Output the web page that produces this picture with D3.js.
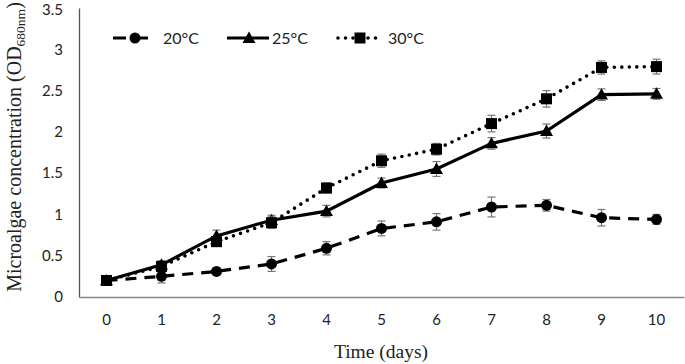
<!DOCTYPE html>
<meta charset="utf-8">
<head>
<style>
body { margin: 0; background: #fff; }
.tick text { font-family: Lato, "Open Sans", sans-serif; font-size: 15px; fill: #222; }
.legend text { font-family: Lato, "Open Sans", sans-serif; font-size: 16px; fill: #222; }
.title { font-family: "Liberation Serif", "DejaVu Serif", serif; fill: #222; }
</style>
</head>
<body>
<svg width="685" height="364"></svg>
<script src="https://d3js.org/d3.v7.min.js"></script>
<script>
const days = [0, 1, 2, 3, 4, 5, 6, 7, 8, 9, 10];
const yTicks = [0, 0.5, 1, 1.5, 2, 2.5, 3, 3.5];

const t20 = [0.2, 0.25, 0.31, 0.4, 0.59, 0.83, 0.91, 1.09, 1.11, 0.96, 0.94];
const t20err = [0.02, 0.08, 0.04, 0.09, 0.08, 0.09, 0.1, 0.12, 0.07, 0.1, 0.06];
const t25 = [0.2, 0.39, 0.74, 0.93, 1.04, 1.38, 1.55, 1.86, 2.01, 2.45, 2.46];
const t25err = [0.02, 0.05, 0.07, 0.06, 0.07, 0.06, 0.09, 0.07, 0.085, 0.07, 0.065];
const t30 = [0.2, 0.37, 0.67, 0.9, 1.32, 1.65, 1.79, 2.1, 2.4, 2.78, 2.79];
const t30err = [0.02, 0.06, 0.04, 0.07, 0.06, 0.08, 0.07, 0.1, 0.1, 0.08, 0.09];

const series = [
    {name: '20\u00B0C', values: t20, err: t20err, dash: '11,8', cap: 'butt', marker: 'circle'},
    {name: '25\u00B0C', values: t25, err: t25err, dash: null, cap: 'butt', marker: 'triangle'},
    {name: '30\u00B0C', values: t30, err: t30err, dash: '0,7.5', cap: 'round', marker: 'square'}
];

let svg = d3.select('svg');
let margin = {top: 8, right: 1, bottom: 67, left: 79};
let width = +svg.attr('width') - margin.left - margin.right;
let height = +svg.attr('height') - margin.top - margin.bottom;

let x = d3.scaleBand().domain(days).range([0, width]);
let y = d3.scaleLinear().domain([0, 3.5]).range([height, 0]);
let cx = (d) => x(d) + x.bandwidth() / 2;

let g = svg.append('g')
    .attr('transform', `translate(${margin.left}, ${margin.top})`);

// axes
let yAxis = g.append('g')
    .call(d3.axisLeft(y).tickValues(yTicks).tickSize(0).tickPadding(16).tickFormat(d3.format('')));
yAxis.select('.domain').attr('stroke', '#555').attr('stroke-width', 1.3);
// keep the top label inside the window
yAxis.selectAll('.tick text').filter((d) => d === 3.5).attr('dy', '0.42em');

let xAxis = g.append('g')
    .attr('transform', `translate(0, ${height})`)
    .call(d3.axisBottom(x).tickSize(0).tickPadding(17));
xAxis.select('.domain').attr('stroke', '#888').attr('stroke-width', 1.3);

function drawMarker(sel, type, px, py) {
    if (type === 'circle') {
        sel.append('circle').attr('cx', px).attr('cy', py).attr('r', 5.5).attr('fill', '#000');
    } else if (type === 'triangle') {
        let s = 6.5;
        sel.append('path')
            .attr('d', `M${px},${py - s}L${px + s},${py + s * 0.75}L${px - s},${py + s * 0.75}Z`)
            .attr('fill', '#000');
    } else {
        sel.append('rect').attr('x', px - 5.5).attr('y', py - 5.5)
            .attr('width', 11).attr('height', 11).attr('fill', '#000');
    }
}

let line = d3.line().x((d, i) => cx(days[i])).y((d) => y(d));

series.forEach((s) => {
    let sg = g.append('g');
    sg.append('path')
        .datum(s.values)
        .attr('d', line)
        .attr('fill', 'none')
        .attr('stroke', '#000')
        .attr('stroke-width', s.cap === 'round' ? 3.6 : 3.2)
        .attr('stroke-linecap', s.cap)
        .attr('stroke-dasharray', s.dash);

    // error bars
    s.values.forEach((v, i) => {
        let px = cx(days[i]);
        let e = s.err[i];
        let eg = sg.append('g').attr('stroke', '#777').attr('stroke-width', 1.2);
        eg.append('line').attr('x1', px).attr('x2', px).attr('y1', y(v - e)).attr('y2', y(v + e));
        eg.append('line').attr('x1', px - 4).attr('x2', px + 4).attr('y1', y(v - e)).attr('y2', y(v - e));
        eg.append('line').attr('x1', px - 4).attr('x2', px + 4).attr('y1', y(v + e)).attr('y2', y(v + e));
    });

    s.values.forEach((v, i) => drawMarker(sg, s.marker, cx(days[i]), y(v)));
});

// legend
let legendX = [113, 227, 338];
let legend = svg.append('g').attr('class', 'legend');
series.forEach((s, i) => {
    let lx = legendX[i];
    let ly = 38;
    legend.append('line')
        .attr('x1', lx).attr('x2', lx + 42).attr('y1', ly).attr('y2', ly)
        .attr('stroke', '#000')
        .attr('stroke-width', s.cap === 'round' ? 3.6 : 3.2)
        .attr('stroke-linecap', s.cap)
        .attr('stroke-dasharray', s.cap === 'round' ? '0,7.5' : (s.dash ? '13,9' : null));
    drawMarker(legend, s.marker, lx + 22, ly);
    legend.append('text')
        .attr('x', lx + (i === 1 ? 45 : 50)).attr('y', ly + 6)
        .text(s.name);
});

// titles
svg.append('text')
    .attr('class', 'title')
    .attr('x', 381).attr('y', 358)
    .attr('text-anchor', 'middle')
    .style('font-size', '19.5px')
    .text('Time (days)');

let yt = svg.append('text')
    .attr('class', 'title')
    .attr('transform', 'translate(21, 147) rotate(-90)')
    .attr('text-anchor', 'middle')
    .style('font-size', '20px');
yt.append('tspan').text('Microalgae concentration (OD');
yt.append('tspan').attr('dy', 4).style('font-size', '13.5px').text('680nm');
yt.append('tspan').attr('dy', -4).text(')');
</script>
</body>
</html>
